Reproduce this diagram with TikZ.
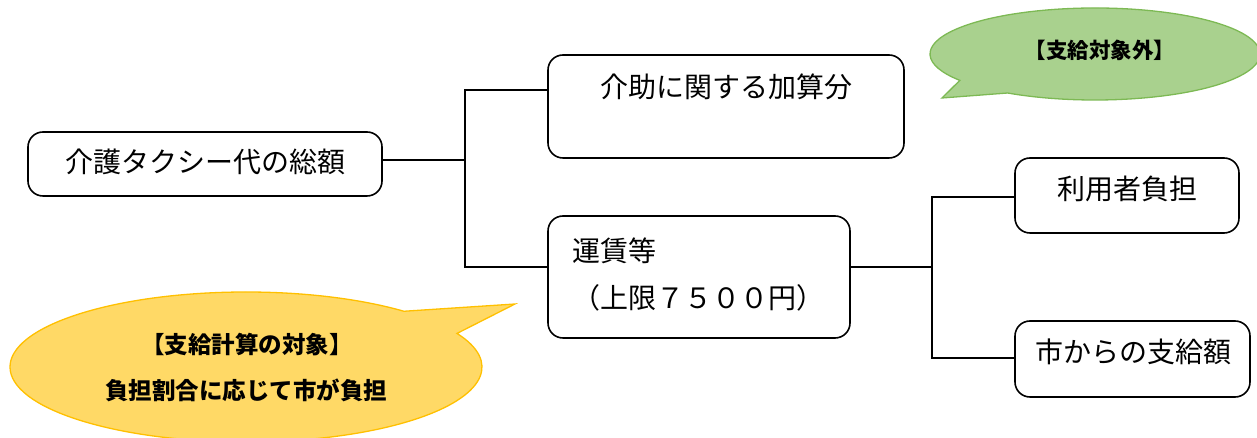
\documentclass[tikz,border=0pt]{standalone}
\usepackage{fontspec}
\setmainfont{Noto Sans CJK JP}
\definecolor{greenfill}{HTML}{A9D18E}
\definecolor{greenline}{HTML}{7DB954}
\definecolor{yellowfill}{HTML}{FFD966}
\definecolor{yellowline}{HTML}{FFC000}
\begin{document}
\begin{tikzpicture}
            [x=1pt,y=1pt,
             box/.style ={draw,rounded corners=15pt,line width=1.6pt},
             txt/.style ={inner sep=0pt,font=\fontsize{28}{34}\selectfont},
             note/.style ={inner sep=0pt,font=\fontsize{23.5}{28}\selectfont\bfseries},
             link/.style ={line width=1.6pt}]
            \useasboundingbox (0,0) rectangle (1257,438);
            \node[box,minimum width=354,minimum height=64] (total) at (205,274) {};
            \node[box,minimum width=356,minimum height=103] (extra) at (726,331.5) {};
            \node[box,minimum width=302,minimum height=122] (fare) at (699,161) {};
            \node[box,minimum width=224,minimum height=75] (user) at (1127,242.5) {};
            \node[box,minimum width=235,minimum height=76] (city) at (1132.5,79) {};
            \node[txt] (totaltext) at (205,276) {介護タクシー代の総額};
            \node[txt] (extratext) at (726,351) {介助に関する加算分};
            \node[txt,anchor=west] (faretext) at (572,187) {運賃等};
            \node[txt,anchor=west] (limittext) at (572,140) {（上限７５００円）};
            \node[txt] (usertext) at (1127,249) {利用者負担};
            \node[txt] (citytext) at (1133,86) {市からの支給額};
            \coordinate (fork1) at (465,278);
            \coordinate (fork2) at (932,171);
            \draw[link] (total.east |- fork1) to (fork1);
            \draw[link] (extra.west |- 0,348) -| (fork1) |- (fare.west |- fork2);
            \draw[link] (fare.east |- fork2) to (fork2);
            \draw[link] (user.west |- 0,241) -| (fork2) |- (city.west |- 0,80);
            \draw[greenline,fill=greenfill,line width=1.3pt] (1095,384) ++(238:165 and 46)
              arc[start angle=238,end angle=575,x radius=165,y radius=46] -- (942,340) -- cycle;
            \draw[yellowline,fill=yellowfill,line width=1.3pt] (246,71) ++(48:236 and 75)
              arc[start angle=48,end angle=386.6,x radius=236,y radius=75] -- (515,134) -- cycle;
            \node[note,font=\fontsize{21.5}{26}\selectfont\bfseries] (outside) at (1100,388) {【支給対象外】};
            \node[note] (target) at (247,93) {【支給計算の対象】};
            \node[note] (share) at (246,48) {負担割合に応じて市が負担};
        \end{tikzpicture}
\end{document}
